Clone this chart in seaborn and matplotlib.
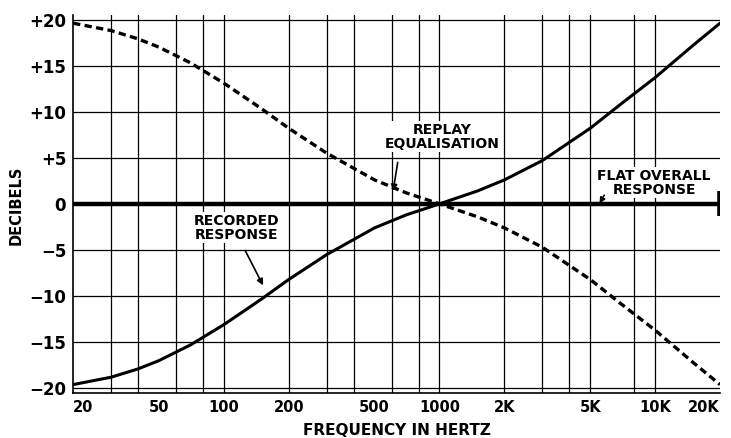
import matplotlib
matplotlib.use("Agg")
import matplotlib.pyplot as plt
import seaborn as sns
import pandas as pd

# ---- data ----
freqs = [20, 30, 40, 50, 70, 100, 150, 200, 300, 500, 700, 1000,
         1500, 2000, 3000, 5000, 7000, 10000, 15000, 20000]
replay_db = [19.6, 18.8, 17.9, 17.0, 15.3, 13.1, 10.3, 8.2, 5.5, 2.6, 1.2, 0.0,
             -1.4, -2.6, -4.7, -8.2, -10.9, -13.7, -17.2, -19.6]
recorded_db = [-19.6, -18.8, -17.9, -17.0, -15.3, -13.1, -10.3, -8.2, -5.5, -2.6, -1.2, 0.0,
               1.4, 2.6, 4.7, 8.2, 10.9, 13.7, 17.2, 19.6]
flat_freqs = [20, 20000]
flat_db = [0, 0]

x_ticks = [20, 50, 100, 200, 500, 1000, 2000, 5000, 10000, 20000]
x_ticklabels = ["20", "50", "100", "200", "500", "1000", "2K", "5K", "10K", "20K"]
y_ticks = [20, 15, 10, 5, 0, -5, -10, -15, -20]
y_ticklabels = ["+20", "+15", "+10", "+5", "0", "\u22125", "\u221210", "\u221215", "\u221220"]
v_grid = [30, 40, 60, 80, 100, 200, 300, 400, 600, 800, 1000,
          2000, 3000, 4000, 5000, 8000, 10000]

df = pd.DataFrame({"freq": freqs, "replay": replay_db, "recorded": recorded_db})

sns.set_style("white")
plt.rcParams["font.family"] = ["DejaVu Sans"]
plt.rcParams["text.color"] = "black"
plt.rcParams["axes.labelcolor"] = "black"
plt.rcParams["xtick.color"] = "black"
plt.rcParams["ytick.color"] = "black"

fig = plt.figure(figsize=(7.31, 4.38), dpi=100)
ax = fig.add_axes([0.100, 0.103, 0.885, 0.863])

# grid
for v in v_grid:
    ax.axvline(v, color="black", lw=0.9, zorder=1)
for h in [20, 15, 10, 5, -5, -10, -15, -20]:
    ax.axhline(h, color="black", lw=0.9, zorder=1)

# flat overall response
sns.lineplot(x=flat_freqs, y=flat_db, ax=ax, color="black", lw=3.2, zorder=3)
ax.plot([20000, 20000], [1.4, -1.3], color="black", lw=4, zorder=3, solid_capstyle="butt")

sns.lineplot(data=df, x="freq", y="recorded", ax=ax, color="black", lw=2.2, zorder=4)
sns.lineplot(data=df, x="freq", y="replay", ax=ax, color="black", lw=2.4, zorder=4,
             linestyle=(0, (2.2, 1.3)))

ax.set_xscale("log")
ax.set_xlim(20, 20000)
ax.set_ylim(-20.5, 20.5)
ax.set_xticks(x_ticks)
ax.set_xticklabels(x_ticklabels, fontsize=10.5, fontweight="bold")
ax.minorticks_off()
ax.set_yticks(y_ticks)
ax.set_yticklabels(y_ticklabels, fontsize=12, fontweight="bold")
ax.tick_params(axis="both", length=0, pad=5)
labs = ax.get_xticklabels()
labs[0].set_ha("left")
labs[-1].set_ha("right")

ax.set_xlabel("FREQUENCY IN HERTZ", fontsize=11, fontweight="bold", labelpad=6)
ax.set_ylabel("DECIBELS", fontsize=10.5, fontweight="bold")
ax.yaxis.set_label_coords(-0.077, 0.497)

for s in ["top", "right"]:
    ax.spines[s].set_visible(False)
for s in ["left", "bottom"]:
    ax.spines[s].set_color("black")
    ax.spines[s].set_linewidth(1.2)

tprops = dict(fontsize=10, fontweight="bold", ha="center", va="center",
              linespacing=1.0, zorder=6)
ax.text(1030, 7.3, "REPLAY\nEQUALISATION",
        bbox=dict(facecolor="white", edgecolor="none", pad=1), **tprops)
ax.annotate("", xy=(607, 1.1), xytext=(643, 4.8),
            arrowprops=dict(arrowstyle="-|>", color="black", lw=1.2, mutation_scale=9), zorder=6)

ax.text(114, -2.6, "RECORDED\nRESPONSE",
        bbox=dict(facecolor="white", edgecolor="none", pad=1), **tprops)
ax.annotate("", xy=(154, -9.1), xytext=(124, -4.8),
            arrowprops=dict(arrowstyle="-|>", color="black", lw=1.2, mutation_scale=9), zorder=6)

ax.text(9900, 2.3, "FLAT OVERALL\nRESPONSE",
        bbox=dict(facecolor="white", edgecolor="none", pad=1), **tprops)
ax.annotate("", xy=(5440, -0.2), xytext=(5900, 1.2),
            arrowprops=dict(arrowstyle="-|>", color="black", lw=1.2, mutation_scale=8), zorder=6)

fig.savefig("out.png", dpi=100, facecolor="white")
